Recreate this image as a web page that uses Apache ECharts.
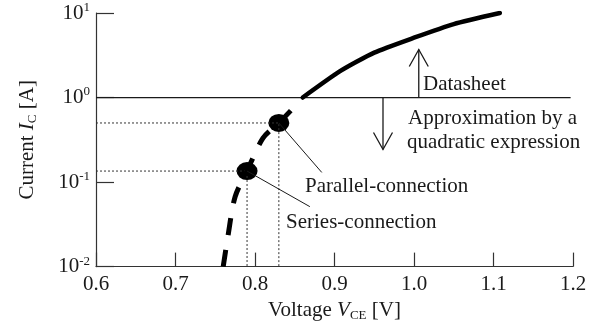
<!DOCTYPE html>
<html>
<head>
<meta charset="utf-8">
<script src="https://cdn.jsdelivr.net/npm/echarts@6/dist/echarts.min.js"></script>
<style>
  html, body { margin: 0; padding: 0; background: #fff; }
  #chart { width: 597px; height: 327px; }
</style>
</head>
<body>
<div id="chart"></div>
<script>
// Collector current vs collector-emitter voltage (log current axis)
var xTicks = [0.6, 0.7, 0.8, 0.9, 1.0, 1.1, 1.2];
var yDecades = [0.01, 0.1, 1, 10];

// Datasheet curve [V, A]
var datasheetV = [0.860, 0.907, 0.950, 1.000, 1.050, 1.108];
var datasheetI = [1.00, 2.05, 3.40, 5.10, 7.40, 10.0];

// Quadratic-expression approximation [V, A]
var approxV = [0.760, 0.766, 0.775, 0.790, 0.810, 0.830, 0.845];
var approxI = [0.010, 0.023, 0.067, 0.135, 0.330, 0.500, 0.700];

// Operating points
var seriesPoint = [0.79, 0.135];
var parallelPoint = [0.83, 0.50];

// Boundary between datasheet and approximation
var boundaryI = 1;

// Arrows: [V, from A, to A]
var arrowUp = [1.006, 1, 3.7];
var arrowDown = [0.961, 1, 0.243];

// Leader line ends [V, A]
var parallelLeaderEnd = [0.884, 0.130];
var seriesLeaderEnd = [0.869, 0.0512];

function zip(a, b) { return a.map(function (v, i) { return [v, b[i]]; }); }

var serifFont = '"Liberation Serif", "Times New Roman", serif';
var ink = '#1a1a1a';

var chart = echarts.init(document.getElementById('chart'));

var guideStyle = { color: '#333', width: 1, type: [2, 2] };

function renderArrow(params, api) {
  var p0 = api.coord([api.value(0), api.value(1)]);
  var p1 = api.coord([api.value(0), api.value(2)]);
  var dx = p1[0] - p0[0], dy = p1[1] - p0[1];
  var len = Math.sqrt(dx * dx + dy * dy) || 1;
  var ux = dx / len, uy = dy / len;
  var nx = -uy, ny = ux;
  var hl = 17, hw = 9.5;
  var b = [p1[0] - ux * hl, p1[1] - uy * hl];
  return {
    type: 'group',
    children: [
      { type: 'line', shape: { x1: p0[0], y1: p0[1], x2: p1[0], y2: p1[1] },
        style: { stroke: ink, lineWidth: 1.3 } },
      { type: 'polyline', shape: { points: [[b[0] + nx * hw, b[1] + ny * hw], p1, [b[0] - nx * hw, b[1] - ny * hw]] },
        style: { stroke: ink, lineWidth: 1.3, fill: null } }
    ]
  };
}

var option = {
  animation: false,
  backgroundColor: '#fff',
  textStyle: { fontFamily: serifFont, color: ink },
  grid: { left: 96, right: 24, top: 13, bottom: 56 },
  xAxis: {
    type: 'value',
    min: xTicks[0],
    max: xTicks[xTicks.length - 1],
    interval: 0.1,
    splitLine: { show: false },
    axisLine: { lineStyle: { color: '#333', width: 1.2 } },
    axisTick: { inside: true, length: 14, lineStyle: { color: '#333', width: 1.2 } },
    axisLabel: {
      margin: 7, fontSize: 21, fontFamily: serifFont, color: ink,
      formatter: function (v) { return v.toFixed(1); }
    },
    name: '{t|Voltage }{i|V}{s|CE}{t| [V]}',
    nameLocation: 'middle',
    nameGap: 30,
    nameTextStyle: {
      rich: {
        t: { fontSize: 21, fontFamily: serifFont, color: ink, lineHeight: 24 },
        i: { fontSize: 21, fontFamily: serifFont, fontStyle: 'italic', color: ink, lineHeight: 24 },
        s: { fontSize: 13, fontFamily: serifFont, color: ink, verticalAlign: 'bottom', lineHeight: 24 }
      }
    }
  },
  yAxis: {
    type: 'log',
    logBase: 10,
    min: yDecades[0],
    max: yDecades[yDecades.length - 1],
    interval: 1,
    splitLine: { show: false },
    minorTick: { show: false },
    axisLine: { lineStyle: { color: '#333', width: 1.2 } },
    axisTick: { inside: true, length: 18, lineStyle: { color: '#333', width: 1.2 } },
    axisLabel: {
      margin: 6,
      formatter: function (v) {
        var e = Math.round(Math.log(v) / Math.LN10);
        return '{b|10}{s|' + e + '}';
      },
      rich: {
        b: { fontSize: 21, fontFamily: serifFont, color: ink, lineHeight: 24 },
        s: { fontSize: 13, fontFamily: serifFont, color: ink, verticalAlign: 'top', lineHeight: 24 }
      }
    },
    name: '{t|Current }{i|I}{s|C}{t| [A]}',
    nameLocation: 'middle',
    nameRotate: 90,
    nameGap: 57,
    nameTextStyle: {
      rich: {
        t: { fontSize: 21, fontFamily: serifFont, color: ink, lineHeight: 24 },
        i: { fontSize: 21, fontFamily: serifFont, fontStyle: 'italic', color: ink, lineHeight: 24 },
        s: { fontSize: 13, fontFamily: serifFont, color: ink, verticalAlign: 'bottom', lineHeight: 24 }
      }
    }
  },
  series: [
    { // boundary line at 1 A
      type: 'line', symbol: 'none', silent: true,
      data: [[xTicks[0], boundaryI], [1.197, boundaryI]],
      lineStyle: { color: ink, width: 1.3 }
    },
    { // guides to the series-connection point
      type: 'line', symbol: 'none', silent: true,
      data: [[xTicks[0], seriesPoint[1]], seriesPoint, [seriesPoint[0], yDecades[0]]],
      lineStyle: guideStyle
    },
    { // guides to the parallel-connection point
      type: 'line', symbol: 'none', silent: true,
      data: [[xTicks[0], parallelPoint[1]], parallelPoint, [parallelPoint[0], yDecades[0]]],
      lineStyle: guideStyle
    },
    { // datasheet curve
      type: 'line', symbol: 'none', smooth: 0.2, silent: true,
      data: zip(datasheetV, datasheetI),
      lineStyle: { color: '#000', width: 4.5, cap: 'round' }
    },
    { // quadratic approximation
      type: 'line', symbol: 'none', smooth: 0.3, silent: true,
      data: zip(approxV, approxI),
      lineStyle: { color: '#000', width: 5, type: [17, 15] }
    },
    { // leader lines
      type: 'line', symbol: 'none', silent: true,
      data: [parallelPoint, parallelLeaderEnd],
      lineStyle: { color: ink, width: 1 }
    },
    {
      type: 'line', symbol: 'none', silent: true,
      data: [seriesPoint, seriesLeaderEnd],
      lineStyle: { color: ink, width: 1 }
    },
    { // operating points
      type: 'scatter', symbol: 'circle', symbolSize: [21, 18], silent: true,
      data: [seriesPoint, parallelPoint],
      itemStyle: { color: '#000', opacity: 1 }
    },
    { // region arrows
      type: 'custom', silent: true,
      renderItem: renderArrow,
      data: [arrowUp, arrowDown]
    }
  ],
  graphic: [
    { type: 'text', x: 423, y: 84, style: { text: 'Datasheet', font: '21px ' + serifFont, fill: ink, verticalAlign: 'middle' } },
    { type: 'text', x: 408, y: 118, style: { text: 'Approximation by a', font: '21px ' + serifFont, fill: ink, verticalAlign: 'middle' } },
    { type: 'text', x: 407, y: 142, style: { text: 'quadratic expression', font: '21px ' + serifFont, fill: ink, verticalAlign: 'middle' } },
    { type: 'text', x: 305, y: 186, style: { text: 'Parallel-connection', font: '21px ' + serifFont, fill: ink, verticalAlign: 'middle' } },
    { type: 'text', x: 286, y: 222, style: { text: 'Series-connection', font: '21px ' + serifFont, fill: ink, verticalAlign: 'middle' } }
  ]
};

chart.setOption(option);
</script>
</body>
</html>
